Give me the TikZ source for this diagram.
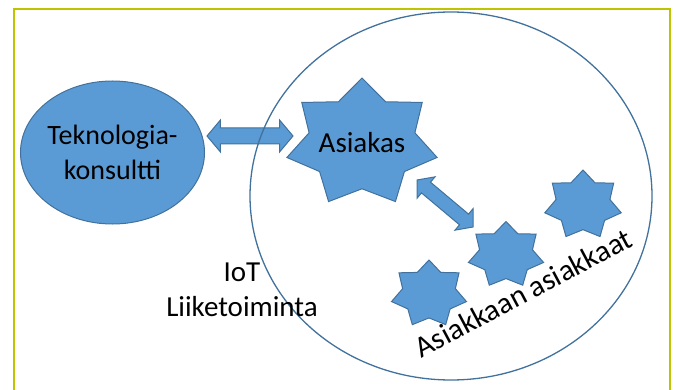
\documentclass[tikz,border=0pt]{standalone}
\usepackage{fontspec}
\setmainfont{Carlito}
\usepackage{tikz}
\usetikzlibrary{shapes.geometric,shapes.arrows,calc}

\definecolor{frameline}{RGB}{190,196,0}
\definecolor{shapefill}{RGB}{91,155,213}
\definecolor{shapeline}{RGB}{65,113,156}

\begin{document}
\begin{tikzpicture}[x=1pt,y=-1pt
  ,font=\fontsize{28}{35}\selectfont
  ,inner sep=0pt
  ,line width=1pt]
  \tikzstyle{blob}=[ellipse,draw=shapeline,fill=shapefill,align=center]
  \tikzstyle{star7}=[star,star points=7,star point ratio=1.42,draw=shapeline,fill=shapefill]
  \tikzstyle{twoway}=[double arrow,double arrow tip angle=100,draw=shapeline,fill=shapefill,sloped,midway]

  \useasboundingbox (0,0) rectangle (677,390);
  % frame, open at the bottom
  \draw[frameline,line width=2pt] (14,392) -- (14,9) -- (670,9) -- (670,392);

  % consultant, customer and the customer's customers
  \node[blob,minimum width=184pt,minimum height=143pt] (tek) at (112.5,152.5) {Teknologia-\\konsultti};
  \node[star7,minimum size=130pt,xscale=1.185] (asiakas) at (362,143) {};
  \node[star7,minimum size=68pt,xscale=1.13] (aa1) at (429,294) {};
  \node[star7,minimum size=67pt,xscale=1.15] (aa2) at (506,255) {};
  \node[star7,minimum size=70pt,xscale=1.12] (aa3) at (583,205) {};

  % two-way block arrows
  \coordinate (h1) at (207,136);
  \coordinate (h2) at (293,136);
  \coordinate (d1) at (417,180);
  \coordinate (d2) at (473,227);
  \path let \p1=($(h2)-(h1)$), \n1={veclen(\x1,\y1)} in
    (h1) -- (h2) node[twoway,minimum height=\n1,inner ysep=7.5pt,double arrow head extend=8pt] (harrow) {};
  \path let \p1=($(d2)-(d1)$), \n1={veclen(\x1,\y1)} in
    (d1) -- (d2) node[twoway,minimum height=\n1,inner ysep=6.5pt,double arrow head extend=7pt] (darrow) {};

  % the IoT business
  \node[ellipse,draw=shapeline,line width=1.3pt,minimum width=402pt,minimum height=368pt] (iot) at (451,196) {};

  \node[font=\fontsize{29}{35}\selectfont] (asiakastxt) at (asiakas) {Asiakas};
  \node[align=center,font=\fontsize{29}{35}\selectfont] (iottxt) at (242,290) {IoT\\Liiketoiminta};
  \node[rotate=28,anchor=base,font=\fontsize{30}{36}\selectfont] (aatxt) at (528,302) {Asiakkaan asiakkaat};
\end{tikzpicture}
\end{document}
